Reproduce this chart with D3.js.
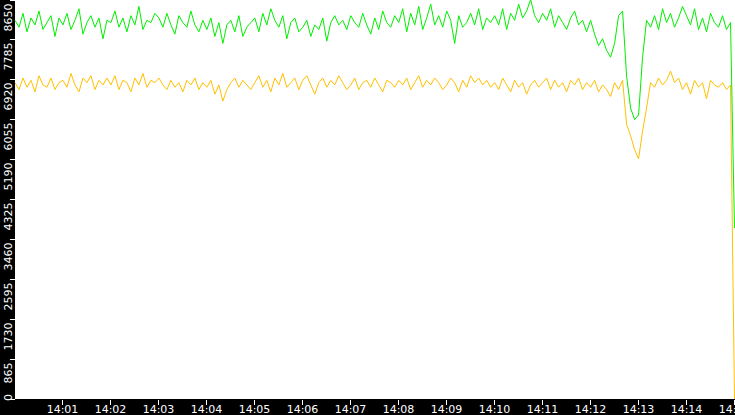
<!DOCTYPE html>
<html><head><meta charset="utf-8">
<script src="https://cdn.jsdelivr.net/npm/d3@7"></script>
<style>html,body{margin:0;padding:0;background:#fff;overflow:hidden}</style>
</head><body><svg id="c" width="735" height="415"></svg>
<script>
const stepSeconds = 5;
const greenValues = [
8200,8050,8350,7950,8250,8100,8400,8000,8150,8300,7850,8250,
8100,8350,8000,8200,8450,7900,8150,8300,8050,8250,7800,8200,
8150,8400,8050,8250,7950,8300,8100,8500,8000,8200,8150,8350,
8250,8050,8350,8100,7900,8300,8150,8050,8400,8100,7950,8200,
8000,8250,7850,8150,7700,8100,8200,7950,8300,7850,8050,8150,
8250,7950,8350,8100,8450,8200,8050,8300,7800,8150,8250,7950,
8050,8200,7850,8100,8000,8250,7750,8150,8300,8100,8200,8000,
8300,8150,8050,8350,8100,7900,8250,8000,8400,8150,8050,8300,
8150,8450,7950,8350,8100,8500,8000,8250,8550,8100,8300,8050,
8400,8200,7700,8300,8050,8150,8350,8100,8450,8000,8250,8150,
8300,8100,8450,8000,8350,8200,8550,8250,8400,8650,8300,8150,
8350,8200,8450,8050,8300,8150,8000,8250,8400,8100,8200,7950,
8200,7900,7650,7800,7550,7400,7700,8300,8400,7000,6300,6050,
6150,7400,8200,8050,8300,8000,8450,8150,8350,8050,8250,8500,
8300,8100,8450,8000,8250,7950,8350,8150,8050,8300,8000,8150,
3700];
const yellowValues = [
6850,6700,6950,6750,6900,6650,7000,6800,6750,6950,6700,6850,
6900,6750,7050,6800,6650,6950,6850,7000,6700,6900,6800,6950,
6800,7000,6700,6900,6850,6650,6950,6800,7050,6750,6900,6850,
6950,6800,6700,6900,6750,6850,6650,6900,6800,6950,6700,6850,
6750,6900,6600,6800,6450,6700,6850,6950,6750,6900,6800,6700,
6850,7000,6750,6900,6650,6950,6800,7050,6750,6850,6950,6700,
6900,7000,6800,6600,6850,6950,6750,6900,6800,7000,6850,6700,
6800,6950,6700,6850,6900,6750,6950,6800,6650,6900,6850,6750,
6900,6800,6950,6700,6850,7000,6750,6900,6800,6950,6850,6700,
6800,6950,6850,6650,6900,6750,7000,6850,6950,6800,6900,6750,
6850,6700,6950,6800,6650,6900,6750,6850,6600,6800,6900,6750,
6850,6950,6700,6900,6750,6850,6650,6900,6800,6950,6700,6850,
6750,6900,6650,6800,6700,6550,6850,6700,6900,5950,5700,5400,
5200,5800,6300,6850,6750,6950,6800,6900,7100,6850,6950,6700,
6850,6600,6900,6750,6850,6500,6900,6800,6750,6850,6700,6800,
0];
const yTicks = [0,865,1730,2595,3460,4325,5190,6055,6920,7785,8650];
const xTickLabels = ["14:01","14:02","14:03","14:04","14:05","14:06","14:07","14:08","14:09","14:10","14:11","14:12","14:13","14:14","14:15"];

const svg = d3.select("#c");
const W=735,H=415,L=15,B=399;
const t0 = new Date(2020,0,1,14,0,0);
const x = d3.scaleTime().domain([t0, new Date(2020,0,1,14,15,0)]).range([L,W-0.5]);
const y = d3.scaleLinear().domain([0,8650]).range([B,-0.5]);
const tAt = i => new Date(t0.getTime()+i*stepSeconds*1000);

svg.append("rect").attr("x",0).attr("y",0).attr("width",L).attr("height",H).attr("fill","#000");
svg.append("rect").attr("x",0).attr("y",B).attr("width",W).attr("height",H-B).attr("fill","#000");

const line = d3.line().x((d,i)=>x(tAt(i))).y(d=>y(d));
svg.append("path").datum(yellowValues).attr("d",line).attr("fill","none").attr("stroke","#ffc000").attr("stroke-width",1);
svg.append("path").datum(greenValues).attr("d",line).attr("fill","none").attr("stroke","#00ee00").attr("stroke-width",1);

const ya = svg.append("g");
yTicks.forEach(v=>{
  const yy = Math.round(y(v))+0.5;
  ya.append("line").attr("x1",10).attr("x2",L).attr("y1",yy).attr("y2",yy).attr("stroke","#fff");
  ya.append("text")
    .attr("transform", v===0 ? `translate(12,${yy-2}) rotate(-90)` : `translate(12,${yy+3}) rotate(-90)`)
    .attr("text-anchor", v===0 ? "middle" : "end").attr("fill","#fff")
    .attr("font-family","DejaVu Sans").attr("font-size",11).text(v);
});
const xa = svg.append("g");
xTickLabels.forEach((lab,k)=>{
  const xx = Math.round(x(new Date(t0.getTime()+(k+1)*60000)))-0.5;
  xa.append("line").attr("x1",xx).attr("x2",xx).attr("y1",B+1).attr("y2",B+6).attr("stroke","#fff");
  xa.append("text").attr("x",xx).attr("y",413).attr("text-anchor","middle").attr("fill","#fff")
    .attr("font-family","DejaVu Sans").attr("font-size",11).text(lab);
});
</script></body></html>
